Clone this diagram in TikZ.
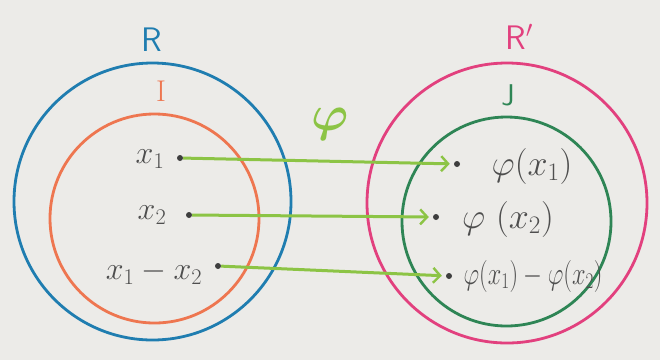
\RequirePackage{fix-cm}
\documentclass[tikz,border=0pt]{standalone}
\usetikzlibrary{arrows.meta}
\definecolor{bg}{HTML}{ECEBE8}
\definecolor{cblue}{HTML}{1F7DB0}
\definecolor{corange}{HTML}{EE7650}
\definecolor{cpink}{HTML}{E2407E}
\definecolor{cgreen}{HTML}{2E8555}
\definecolor{clime}{HTML}{8CC445}
\definecolor{cgray}{HTML}{4E4E4E}
\begin{document}
\begin{tikzpicture}[x=1pt,y=-1pt,
  ring/.style={line width=2.8pt},
  dotnode/.style={circle,fill=cgray!80!black,inner sep=0pt,minimum size=6pt},
  lab/.style={text=cgray,inner sep=0pt},
  setlab/.style={inner sep=0pt,font=\fontsize{34}{38}\selectfont\sffamily},
  arr/.style={clime,line width=3pt,shorten >=4pt,
    -{Straight Barb[length=7pt,width=15pt,line width=2.4pt]}}]
\fill[bg] (0,0) rectangle (660,360);
\useasboundingbox (0,0) rectangle (660,360);
% circles
\draw[ring,cblue] (152.5,201.5) circle[radius=138.5];
\draw[ring,corange] (154.5,218.5) circle[radius=104.5];
\draw[ring,cpink] (507,203) circle[radius=140];
\draw[ring,cgreen] (506.5,221.5) circle[radius=104.5];
% set labels
\node[setlab,text=cblue] (lR) at (152,40) {R};
\node[setlab,text=corange,font=\fontsize{30}{34}\selectfont\rmfamily] (lI) at (161,91) {I};
\node[setlab,text=cpink] (lRp) at (519,37) {R$'$};
\node[setlab,text=cgreen,font=\fontsize{30}{34}\selectfont\sffamily] (lJ) at (508,95) {J};
\node[inner sep=0pt,text=clime,font=\fontsize{50}{54}\selectfont\boldmath] (lphi) at (330,124) {$\varphi$};
% left points
\node[dotnode] (a1) at (180,158) {};
\node[dotnode] (a2) at (189,215) {};
\node[dotnode] (a3) at (218,266) {};
\node[lab,font=\fontsize{32}{36}\selectfont] (la1) at (150,159) {$x_1$};
\node[lab,font=\fontsize{32}{36}\selectfont] (la2) at (152,215) {$x_2$};
\node[lab,font=\fontsize{32}{36}\selectfont] (la3) at (154,273) {$x_1-x_2$};
% right points
\node[dotnode] (b1) at (457,164) {};
\node[dotnode] (b2) at (436,217) {};
\node[dotnode] (b3) at (449,276) {};
\node[lab,font=\fontsize{36}{40}\selectfont] (lb1) at (532,166) {$\varphi(x_1)$};
\node[lab,font=\fontsize{36}{40}\selectfont] (lb2) at (508,219) {$\varphi\ (x_2)$};
\node[lab,font=\fontsize{32}{36}\selectfont,transform shape,xscale=0.76] (lb3) at (533,276) {$\varphi(x_1)-\varphi(x_2)$};
% arrows
\draw[arr] (a1) -- (b1);
\draw[arr] (a2) -- (b2);
\draw[arr] (a3) -- (b3);
\end{tikzpicture}
\end{document}
